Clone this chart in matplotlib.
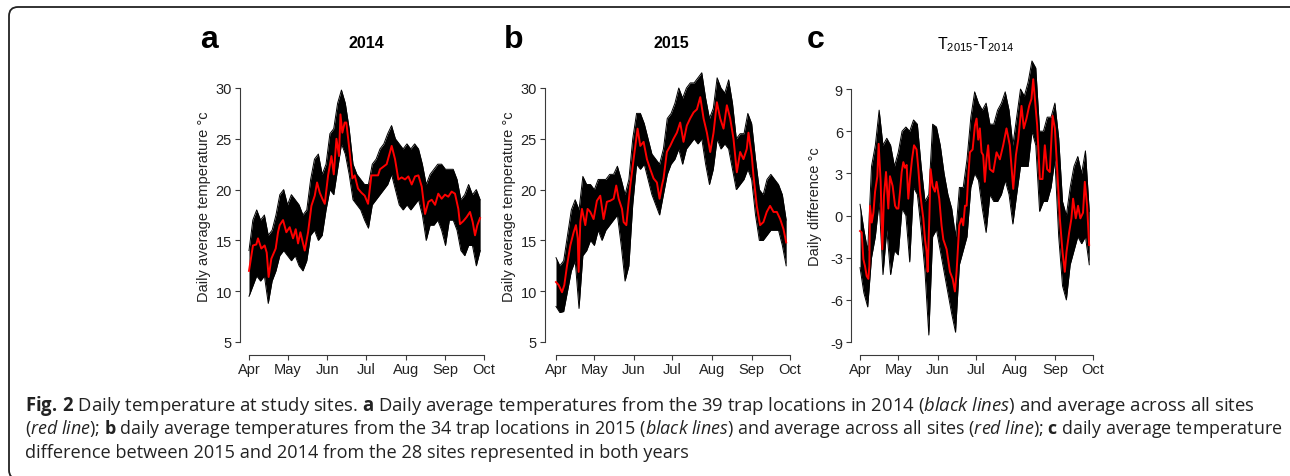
import numpy as np
import matplotlib
matplotlib.use("Agg")
import matplotlib.pyplot as plt
from matplotlib.patches import FancyBboxPatch
from matplotlib.transforms import IdentityTransform

plt.rcParams['font.family'] = ['Liberation Sans', 'DejaVu Sans']
plt.rcParams['axes.unicode_minus'] = False
plt.rcParams['mathtext.fontset'] = 'custom'
plt.rcParams['mathtext.rm'] = 'Open Sans'
plt.rcParams['mathtext.it'] = 'Open Sans:italic'
plt.rcParams['mathtext.bf'] = 'Open Sans:bold'

# ---- data (day 0 = 1 April) ----
month_days = [0, 30, 61, 91, 122, 153, 183]
month_labels = ['Apr', 'May', 'Jun', 'Jul', 'Aug', 'Sep', 'Oct']

# envelope of the site lines, every 3 days
env_days = np.arange(0, 181, 3)

hi_2014 = [14.0, 17.0, 18.0, 17.0, 17.5, 15.5, 16.0, 17.5, 19.5, 20.0, 18.5, 19.5, 19.0, 18.5, 17.5, 18.0,
           21.0, 23.0, 23.5, 21.5, 22.5, 25.5, 26.0, 28.5, 29.8, 28.5, 26.0, 22.5, 21.5, 21.0, 20.5, 20.5,
           22.5, 23.0, 24.0, 24.5, 25.5, 26.3, 25.0, 24.5, 24.0, 24.5, 24.0, 24.5, 24.0, 22.5, 20.5, 21.5,
           22.0, 22.5, 22.5, 22.0, 22.0, 22.0, 21.0, 19.0, 19.5, 20.5, 19.5, 20.0, 19.0]
lo_2014 = [9.5, 10.5, 11.5, 11.0, 11.5, 8.8, 11.0, 12.0, 13.5, 14.0, 13.5, 13.0, 13.5, 12.5, 12.0, 13.0,
           15.5, 16.0, 15.0, 15.5, 18.0, 20.0, 19.5, 22.0, 24.5, 23.5, 21.5, 19.0, 18.5, 18.0, 17.0, 16.2,
           18.5, 19.0, 19.5, 20.0, 20.5, 21.5, 20.0, 18.5, 18.0, 18.5, 18.0, 18.5, 19.0, 17.5, 15.0, 16.5,
           16.5, 17.0, 16.0, 14.5, 17.0, 17.0, 16.0, 14.0, 13.5, 14.5, 14.5, 12.5, 14.0]

hi_2015 = [13.3, 12.5, 13.0, 15.5, 18.0, 19.0, 18.0, 21.3, 20.5, 20.5, 20.0, 21.0, 21.0, 21.0, 21.5, 21.5,
           22.3, 21.0, 19.5, 21.0, 25.0, 27.5, 27.5, 26.5, 25.0, 23.5, 23.0, 22.5, 24.0, 27.0, 27.5, 28.5,
           30.0, 29.0, 30.0, 30.5, 30.5, 31.0, 31.5, 29.0, 27.0, 28.0, 31.0, 30.0, 29.5, 30.8, 28.5, 25.0,
           25.5, 25.5, 27.5, 26.5, 23.0, 20.0, 19.5, 21.0, 21.5, 21.0, 20.5, 19.5, 17.0]
lo_2015 = [8.5, 7.9, 8.0, 10.0, 12.0, 13.0, 8.3, 13.5, 14.0, 15.0, 14.5, 16.0, 15.0, 16.0, 16.5, 17.0,
           17.5, 14.5, 11.0, 12.5, 18.5, 22.5, 22.0, 22.5, 21.0, 19.5, 18.5, 17.5, 19.5, 21.5, 22.5, 23.0,
           24.0, 22.5, 24.0, 24.5, 25.0, 24.5, 25.0, 22.5, 20.5, 22.0, 25.0, 24.0, 24.5, 24.0, 22.0, 20.0,
           20.5, 21.0, 22.0, 21.0, 17.5, 15.0, 15.0, 15.5, 16.0, 16.0, 16.0, 14.5, 12.5]

hi_diff = [0.8, -1.0, -2.5, 3.5, 5.0, 7.5, 5.0, 5.5, 5.0, 3.5, 4.5, 6.0, 6.3, 6.0, 6.8, 6.5,
           3.5, 1.0, 1.5, 6.5, 6.3, 5.0, 3.0, 1.5, 0.5, -1.5, 2.0, 2.0, 4.0, 7.0, 8.8, 8.0,
           7.5, 8.0, 6.5, 6.5, 7.5, 8.0, 8.8, 7.5, 5.0, 7.0, 9.0, 8.5, 9.5, 11.0, 10.5, 6.0,
           6.0, 7.0, 7.0, 8.0, 5.5, 1.0, 0.0, 2.0, 3.5, 4.2, 3.0, 4.6, 0.3]
lo_diff = [-3.7, -5.5, -6.5, -3.0, -1.5, 1.0, -4.2, -1.0, -4.2, -2.5, -2.8, 0.5, 0.0, -3.3, 2.0, 1.5,
           -1.0, -4.0, -8.5, -1.5, -1.0, -2.5, -4.0, -5.5, -7.0, -8.3, -3.5, -2.5, -1.5, 2.0, 3.0, 2.5,
           0.5, -1.2, 1.5, 1.0, 1.0, 1.5, 2.5, 1.5, -0.6, 1.5, 3.5, 3.5, 3.5, 6.0, 5.0, 0.3,
           1.0, 1.0, 2.0, 4.0, -1.5, -5.0, -6.0, -3.5, -2.5, -1.5, -2.0, -1.5, -3.5]

# mean across sites (red lines)
mean_2014_days = [0, 3.1, 5.7, 7.0, 9.6, 12.2, 13.8, 15.3, 17.4, 20.8, 22.6, 23.9, 26.5, 29.1, 31.7, 34.3,
                  36.4, 38.2, 40.0, 43.4, 46.0, 48.6, 51.2, 53.0, 55.1, 57.1, 59.0, 61.6, 64.2, 66.0, 68.1,
                  70.1, 71.2, 72.7, 74.5, 75.8, 78.4, 80.5, 82.3, 84.9, 87.5, 90.1, 92.7, 95.3, 97.9, 100.5,
                  102.0, 107.2, 111.1, 113.7, 116.3, 118.9, 121.5, 124.1, 126.7, 129.3, 131.9, 134.5, 137.1,
                  139.7, 142.3, 144.9, 147.4, 150.0, 152.6, 155.2, 157.8, 160.4, 163.0, 164.3, 166.9, 169.5,
                  172.1, 174.2, 176.0, 177.8, 179.9]
mean_2014 = [12.0, 14.5, 14.6, 15.2, 14.2, 14.5, 13.8, 11.4, 13.2, 14.2, 15.8, 16.5, 17.0, 15.8, 16.3, 15.2,
             16.1, 14.7, 15.8, 14.0, 15.8, 18.4, 19.4, 20.7, 19.7, 19.1, 18.6, 21.4, 23.3, 21.5, 25.0,
             23.3, 27.4, 25.6, 26.6, 26.6, 23.7, 21.1, 21.4, 20.1, 19.7, 19.4, 18.6, 21.4, 21.4, 21.4,
             22.0, 22.5, 24.3, 23.0, 21.0, 21.2, 21.0, 21.3, 20.5, 21.3, 21.4, 20.3, 17.6,
             18.8, 19.0, 18.5, 19.6, 19.1, 19.5, 19.3, 19.8, 19.6, 18.1, 16.6, 16.9, 17.3,
             17.8, 16.8, 15.5, 16.5, 17.2]

mean_2015_days = [0, 2.1, 4.7, 6.5, 8.6, 11.2, 13.8, 15.6, 17.0, 17.7, 19.0, 20.3, 22.9, 24.7, 26.8, 29.4,
                  32.0, 34.6, 37.2, 39.8, 42.4, 45.1, 47.1, 49.0, 51.6, 52.9, 55.0, 56.0, 58.1, 60.7, 63.8,
                  65.9, 68.5, 71.1, 73.7, 76.3, 78.9, 81.0, 82.8, 84.1, 86.7, 89.3, 91.9, 94.5, 97.1, 99.7,
                  102.3, 104.9, 107.6, 110.2, 112.8, 115.4, 118.0, 120.6, 123.2, 125.8, 128.4, 131.0, 133.6,
                  136.2, 138.8, 141.4, 144.0, 146.6, 149.2, 150.5, 153.1, 154.4, 157.0, 159.6, 162.2, 164.8,
                  167.4, 170.1, 172.7, 175.3, 177.9, 180.0]
mean_2015 = [10.9, 10.6, 9.9, 10.6, 12.5, 14.5, 15.8, 16.5, 15.2, 11.9, 16.8, 18.1, 16.5, 18.1, 17.8, 17.1,
             18.9, 19.4, 17.1, 18.8, 18.9, 19.1, 20.4, 19.1, 18.1, 16.8, 16.5, 17.8, 20.4, 23.0, 26.0,
             24.3, 24.7, 23.0, 22.0, 21.1, 20.7, 19.1, 20.4, 21.1, 23.7, 24.3, 25.0, 25.6, 26.6, 24.7,
             26.3, 27.0, 27.6, 27.9, 29.1, 27.0, 25.6, 23.7, 25.6, 28.6, 27.0, 26.0, 28.3,
             27.0, 25.0, 21.7, 23.7, 23.0, 24.0, 25.6, 23.3, 21.4, 18.4, 16.5, 16.8, 17.8,
             18.4, 17.8, 17.8, 17.1, 16.1, 14.8]

mean_diff_days = [0, 1.3, 2.6, 3.9, 5.2, 6.5, 7.3, 7.8, 9.2, 10.5, 11.8, 13.6, 14.6, 16.2, 17.5, 18.8, 20.4,
                  22.2, 23.5, 25.6, 27.5, 28.8, 30.1, 31.4, 32.7, 34.0, 35.3, 36.6, 37.9, 39.2, 40.8, 42.4,
                  44.4, 45.8, 47.1, 48.4, 49.7, 51.0, 52.3, 53.1, 54.4, 55.4, 57.0, 58.8, 60.1, 62.2, 64.0,
                  65.4, 68.0, 70.6, 72.7, 74.5, 75.8, 77.9, 79.7, 81.0, 82.4, 83.7, 85.0, 86.3, 88.4, 90.2,
                  91.5, 92.8, 94.1, 95.4, 96.7, 98.0, 99.3, 100.6, 101.9, 104.6, 107.2, 109.8, 112.4, 115.0,
                  117.6, 120.3, 122.4, 124.2, 126.8, 128.6, 130.7, 132.8, 134.6, 136.0, 137.3, 139.1, 141.2,
                  143.3, 145.1, 146.9, 149.0, 151.2, 153.0, 154.8, 156.9, 159.0, 160.8, 162.1, 164.2, 166.0,
                  167.3, 169.4, 171.2, 173.0, 175.1, 176.5, 178.3, 179.9]
mean_diff = [-1.1, -1.2, -3.1, -3.6, -4.3, -4.5, -3.6, 0.7, -0.5, 0.2, 1.7, 2.8, 5.1, 2.4, -2.4, 1.4, 3.1,
             0.5, 2.8, 2.1, 0.7, 0.5, 0.5, 1.7, 3.1, 3.8, 3.4, 3.6, 1.2, 2.6, 4.0, 5.0,
             4.7, 3.3, 1.7, 0.7, -0.2, -1.7, -2.6, -4.0, -0.2, 3.3, 2.1, 1.7, 2.4, 1.2, -0.7,
             -1.7, -2.4, -4.0, -4.5, -5.4, -4.0, -0.7, -0.2, -0.7, 0.7, 0.7, 2.8, 4.5, 4.7, 6.4,
             6.9, 5.4, 6.2, 4.5, 4.3, 2.4, 4.0, 5.0, 3.3, 3.1, 4.5, 4.0, 5.0, 6.2,
             5.0, 1.9, 4.3, 5.4, 7.8, 6.2, 6.9, 7.8, 8.3, 9.7, 8.3, 6.4, 2.6,
             2.6, 5.0, 3.3, 3.1, 7.1, 6.2, 3.3, -0.2, -2.6, -4.0, -2.6, -1.2, -0.2,
             1.2, -0.2, 0.7, -0.2, 0.2, 2.4, 0.7, -2.1]

W, H = 1290, 477
fig = plt.figure(figsize=(W / 100, H / 100), dpi=100)
axcol = '#3a3a3a'


def add_px_axes(l, t, r, b):
    return fig.add_axes([l / W, 1 - b / H, (r - l) / W, (b - t) / H])


def panel(box, xlim, ylim, hi, lo, mdays, mvals, yticks, ylabel):
    ax = add_px_axes(*box)
    ax.fill_between(env_days, lo, hi, color='black', lw=0)
    ax.plot(env_days, hi, color='black', lw=0.7)
    ax.plot(env_days, lo, color='black', lw=0.7)
    ax.plot(mdays, mvals, color='#ff0000', lw=1.4)
    ax.set_xlim(*xlim)
    ax.set_ylim(*ylim)
    for s in ['top', 'right']:
        ax.spines[s].set_visible(False)
    for s in ['left', 'bottom']:
        ax.spines[s].set_color(axcol)
        ax.spines[s].set_linewidth(0.8)
    ax.spines['left'].set_bounds(yticks[0], yticks[-1])
    ax.spines['bottom'].set_bounds(month_days[0], month_days[-1])
    ax.set_xticks(month_days)
    ax.set_xticklabels(month_labels)
    ax.set_yticks(yticks)
    ax.tick_params(direction='out', length=3.8, width=0.8, color=axcol,
                   labelsize=10.5, labelcolor='#222222')
    ax.tick_params(axis='y', pad=2)
    ax.tick_params(axis='x', pad=1.5)
    ax.set_ylabel(ylabel, fontsize=10.5, color='#222222')
    ax.yaxis.set_label_coords(-29 / (box[2] - box[0]), 0.5)
    return ax


ax1 = panel((240, 58, 493, 356), (-7.0, 190.0), (3.72, 33.05), hi_2014, lo_2014,
            mean_2014_days, mean_2014, [5, 10, 15, 20, 25, 30], 'Daily average temperature °c')
ax2 = panel((545, 58, 800, 356), (-8.6, 190.8), (3.72, 33.05), hi_2015, lo_2015,
            mean_2015_days, mean_2015, [5, 10, 15, 20, 25, 30], 'Daily average temperature °c')
ax3 = panel((851, 58, 1102, 356), (-7.1, 190.0), (-9.92, 11.28), hi_diff, lo_diff,
            mean_diff_days, mean_diff, [-9, -6, -3, 0, 3, 6, 9], 'Daily difference °c')

# titles and panel letters
fig.text(366 / W, 1 - 48 / H, '2014', ha='center', va='baseline', fontsize=11.5, fontweight='bold')
fig.text(671 / W, 1 - 48 / H, '2015', ha='center', va='baseline', fontsize=11.5, fontweight='bold')
fig.text(976 / W, 1 - 49 / H, r'T$_{\mathregular{2015}}$-T$_{\mathregular{2014}}$', ha='center',
         va='baseline', fontsize=11.5)
for letter, x in [('a', 200), ('b', 504), ('c', 807)]:
    fig.text(x / W, 1 - 48 / H, letter, ha='left', va='baseline', fontsize=23, fontweight='bold')

# caption
cap = [r"$\mathbf{Fig.\,2}$ Daily temperature at study sites. $\mathbf{a}$ Daily average temperatures "
       r"from the 39 trap locations in 2014 ($\mathit{black}$ $\mathit{lines}$) and average across all sites",
       r"($\mathit{red}$ $\mathit{line}$); $\mathbf{b}$ daily average temperatures from the 34 trap locations "
       r"in 2015 ($\mathit{black}$ $\mathit{lines}$) and average across all sites ($\mathit{red}$ "
       r"$\mathit{line}$); $\mathbf{c}$ daily average temperature",
       "difference between 2015 and 2014 from the 28 sites represented in both years"]
cap_width = [1229, 1250, None]
cap_texts = []
for i, line in enumerate(cap):
    t = fig.text(25 / W, 1 - (411 + 23.5 * i) / H, line, ha='left', va='baseline', fontsize=13,
                 family='Open Sans', color='#222222')
    cap_texts.append(t)

# scale caption lines to the measured line widths
renderer = fig.canvas.get_renderer()
scales = []
for t, w in zip(cap_texts, cap_width):
    if w is not None:
        s = w / t.get_window_extent(renderer).width
        scales.append(s)
        t.set_fontsize(13 * s)
cap_texts[2].set_fontsize(13 * np.mean(scales))

# rounded frame, in pixels (bottom edge just below the picture)
frame = FancyBboxPatch((9, H - 480), 1320 - 9, 480 - 8,
                       boxstyle='round,pad=0,rounding_size=9', transform=IdentityTransform(),
                       fill=False, ec='#222222', lw=1.3, clip_on=False)
fig.patches.append(frame)

fig.savefig('out.png', dpi=100)
